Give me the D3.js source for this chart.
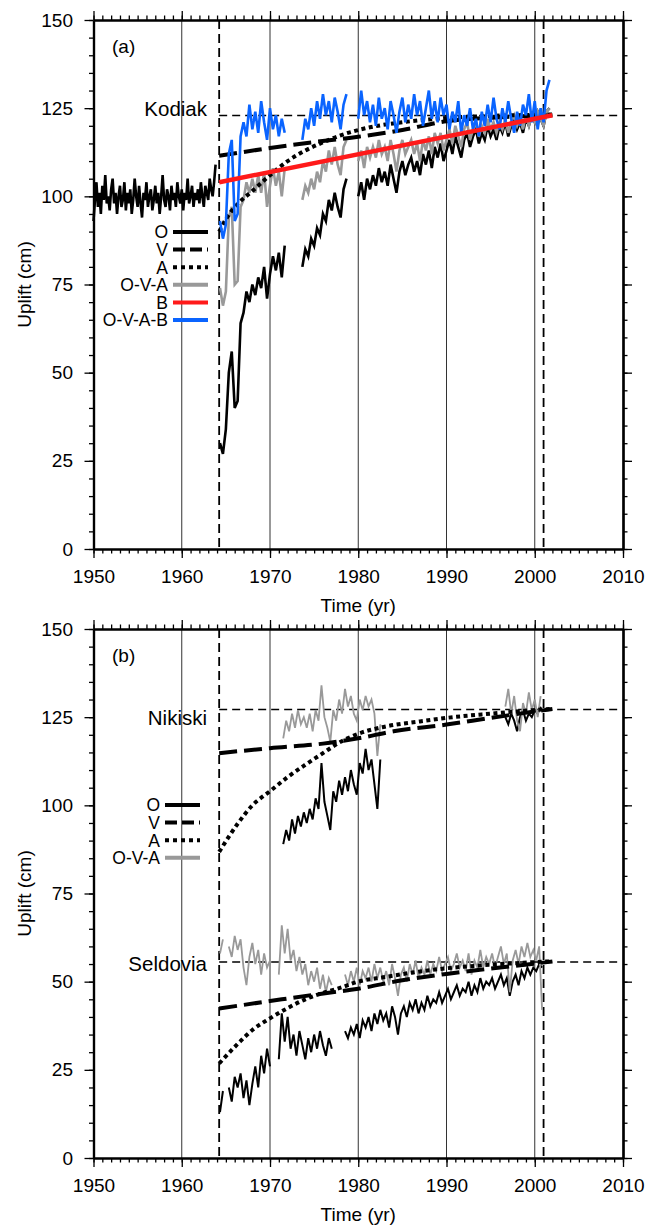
<!DOCTYPE html>
<html>
<head>
<meta charset="utf-8">
<script src="https://cdn.jsdelivr.net/npm/d3@7"></script>
<style>
    body { margin: 0; background: #fff; }
</style>
</head>
<body>
<script>
// ---- data ----
const xTickLabels = [1950, 1960, 1970, 1980, 1990, 2000, 2010];
const yTickLabels = [0, 25, 50, 75, 100, 125, 150];
const gridYears = [1960, 1970, 1980, 1990, 2000];
const quakeYear = 1964.24;
const lastYear = 2001.0;
const step = 1 / 3;   // sampling of the tide-gauge series (yr)

const legendA = ["O", "V", "A", "O-V-A", "B", "O-V-A-B"];
const legendB = ["O", "V", "A", "O-V-A"];

// Kodiak (panel a)
const kodiakFinal = 122.9;
// before the 1964 earthquake, sampled every 2 months
const kodiakObsPre = [93, 99, 104, 97, 101, 95, 103, 99, 106, 98, 100, 96, 102, 105, 98, 101, 95, 100, 103, 97, 99, 104, 96, 101,
    98, 102, 95, 99, 105, 100, 97, 103, 98, 94, 101, 99, 104, 97, 100, 102, 96, 99, 103, 98, 101, 95, 100, 106,
    99, 97, 102, 100, 96, 103, 99, 101, 97, 104, 100, 98, 102, 96, 101, 99, 105, 98, 100, 103, 97, 101, 99, 102,
    98, 104, 100, 97, 103, 101, 99, 105, 102, 100, 104, 109];
const kodiakObs = [30, 27,
    34, 50, 56, 40, 42, 64, 67, 73, 70, 75, 72, 77, 74, 80, 71, 78, 83, 79, 84, 77, 86,
    null, null, null, null, null, 80,
    85, 83, 88, 86, 91, 89, 95, 93, 99, 96, 101, 97, 94, 102, 105,
    null, null, null,
    100, 104, 99, 105, 102, 106, 103, 108, 104, 107, 103, 109, 105, 101, 107, 110, 106, 109,
    111, 107, 110, 106, 112, 109, 113, 108, 114, 111, 115, 110, 113, 116, 112, 117, 114, 111,
    116, 118, 114, 117, 119, 115, 118, 116, 120, 117, 119, 116, 120, 118, 121, 117, 120, 122,
    119, 121, 118, 122, 120, 123, 121, 124, 122, 120, 124, 125];
const kodiakOVA = [74, 69,
    73, 94, 97, 75, 76, 97, 99, 104, 101, 105, 101, 106, 101, 107, 97, 103, 108, 103, 107, 100, 108,
    null, null, null, null, null, 99,
    103, 101, 105, 102, 107, 104, 110, 107, 113, 109, 114, 109, 106, 114, 116,
    null, null, null,
    110, 113, 108, 114, 111, 114, 111, 116, 112, 114, 110, 116, 112, 107, 113, 116, 112, 114,
    116, 112, 115, 110, 116, 113, 117, 112, 118, 115, 118, 113, 116, 119, 115, 120, 117, 114,
    119, 121, 116, 119, 121, 117, 120, 118, 122, 119, 121, 118, 121, 119, 122, 118, 121, 123,
    120, 122, 119, 123, 120, 123, 121, 124, 122, 120, 124, 125];
const kodiakOVAB = [93, 88,
    92, 112, 116, 93, 95, 117, 121, 117, 126, 119, 124, 118, 127, 121, 116, 125, 119, 123, 117, 122, 118,
    null, null, null, null, null, 116,
    122, 119, 125, 120, 127, 122, 129, 123, 127, 121, 128, 124, 119, 126, 129,
    null, null, null,
    122, 130, 123, 127, 121, 126, 120, 128, 122, 125, 119, 127, 123, 118, 124, 128, 121, 126,
    122, 129, 123, 127, 120, 125, 130, 122, 127, 121, 128, 123, 126, 119, 124, 121, 127, 118,
    123, 120, 125, 119, 122, 117, 124, 120, 126, 121, 128, 122, 119, 125, 121, 127, 122, 118,
    124, 120, 126, 123, 129, 121, 127, 119, 125, 121, 130, 133];
const kodiakV = [[1964.24, 111.5], [1970, 113.7], [1975, 115.4], [1980, 116.9], [1985, 118.8], [1990, 121.3], [1995, 122.3], [2002, 123]];
const kodiakA = [[1964.24, 90], [1965, 93.5], [1966.4, 98], [1968, 101.5], [1970, 106], [1972, 110], [1974, 113], [1976, 115.3],
    [1978, 117.3], [1980, 118.8], [1982, 119.9], [1985, 121], [1990, 122.2], [1995, 122.8], [2002, 123.2]];
const kodiakB = [[1964.24, 104], [2002, 123]];

// Nikiski (panel b)
const nikiskiFinal = 127.2;
const nikiskiObs1 = [89, 93, 90, 96, 92, 97, 94, 98, 95, 99, 96, 102, 99, 112, 101, 97, 93, 104, 101, 107, 103, 108, 104,
    110, 106, 103, 112, 109, 116, 110, 113, 106, 99, 113];
const nikiskiOVA1 = [119, 124, 121, 126, 122, 127, 123, 125, 122, 126, 121, 127, 124, 134, 125, 122, 118, 127, 124, 130, 126,
    133, 128, 131, 126, 124, 130, 127, 131, 128, 130, 126, 114, 123];
const nikiskiObs2 = [125, 123, 126, 124, 121, 125, 127, 124, 126, 125, 127, 126, 128];
const nikiskiOVA2 = [128, 133, 126, 131, 124, 121, 129, 126, 132, 127, 130, 125, 131];
const nikiskiV = [[1964.24, 114.8], [1970, 116.2], [1976, 117.5], [1980, 119], [1984, 121], [1990, 122.9], [1995, 124.8], [2002, 127.3]];
const nikiskiA = [[1964.24, 86.8], [1966.4, 95], [1968, 100], [1970, 104], [1972, 108], [1974, 111.5], [1976, 114.8], [1978, 118],
    [1980, 120.3], [1983, 122.3], [1987, 123.8], [1990, 124.8], [1995, 126], [2002, 127.4]];

// Seldovia (panel b)
const seldoviaFinal = 55.6;
const seldoviaObs1 = [13, 19, null, 20, 16, 23, 20, 24, 17, 22, 15, 21, 26, 20, 29, 24, 31, 26, null, null,
    28, 41, 33, 40, 31, 35, 29, 36, 32, 28, 34, 30, 35, 31, 36, 32, 29, 34, 31];
const seldoviaOVA1 = [58, 62, null, 60, 57, 63, 59, 62, 54, 49, 57, 61, 55, 59, 52, 58, 54, 56, null, null,
    52, 66, 58, 65, 56, 59, 53, 57, 52, 55, 49, 53, 50, 54, 48, 52, 47, 51, 49];
const seldoviaObs2 = [36, 34, 37, 35, 38, 34, 39, 37, 40, 36, 41, 38, 42, 39, 41, 37, 43, 40, 35, 41, 43, 40, 44, 42,
    45, 41, 44, 42, 46, 43, 45, 44, 47, 44, 46, 48, 45, 47, 49, 46, 48, 47, 50, 46, 49, 47, 51, 48,
    50, 49, 51, 48, 50, 52, 49, 51, 46, 50, 52, 49, 53, 51, 54, 52, 54, 53, 55, 54];
const seldoviaOVA2 = [52, 49, 53, 50, 54, 49, 53, 51, 54, 50, 55, 51, 54, 50, 53, 49, 55, 51, 46, 52, 54, 50, 55, 52,
    56, 51, 54, 52, 56, 52, 55, 53, 57, 53, 55, 57, 53, 55, 58, 54, 56, 53, 58, 52, 56, 54, 59, 54,
    57, 55, 58, 54, 57, 60, 55, 58, 47, 56, 59, 55, 60, 57, 61, 57, 59, 56, 60, 42];
const seldoviaV = [[1964.24, 42.4], [1970, 44.5], [1975, 46.3], [1980, 48], [1985, 50.4], [1990, 52.2], [1995, 53.7], [2002, 55.7]];
const seldoviaA = [[1964.24, 26.8], [1966.4, 32.5], [1968, 36.3], [1970, 39.6], [1972, 42.5], [1974, 45], [1976, 46.8], [1978, 48.3],
    [1980, 50], [1983, 51.3], [1987, 52.9], [1990, 53.8], [1995, 54.8], [2002, 55.8]];

// ---- drawing ----
const font = "'Liberation Sans', Arial, Helvetica, sans-serif";
const width = 647;
const height = 1226;
const plot_left = 93.5;
const plot_right = 623;
const plot_h = 529;

const styles = {
    "O": { stroke: "#000", width: 2.6 },
    "V": { stroke: "#000", width: 4, dash: "18,7" },
    "A": { stroke: "#000", width: 4, dash: "4,3.5" },
    "O-V-A": { stroke: "#999", width: 2.6 },
    "B": { stroke: "#ff1a1a", width: 4.5 },
    "O-V-A-B": { stroke: "#0a64ff", width: 2.6 }
};

const svg = d3.select("body")
    .append("svg")
    .attr("width", width)
    .attr("height", height)
    .style("font-family", font);

const x = d3.scaleLinear().domain([1950, 2010]).range([plot_left, plot_right]);

const to_points = seg => seg.values.map((v, i) => [seg.start + i * (seg.step || step), v]);

function make_panel(top, cfg) {
    const y = d3.scaleLinear().domain([0, 150]).range([top + plot_h, top]);
    const g = svg.append("g");

    const line = d3.line()
        .defined(d => d[1] !== null)
        .x(d => x(d[0]))
        .y(d => y(d[1]));
    const smooth = d3.line()
        .x(d => x(d[0]))
        .y(d => y(d[1]))
        .curve(d3.curveMonotoneX);

    // decade grid
    g.append("g")
        .selectAll("line")
        .data(gridYears)
        .join("line")
        .attr("x1", d => x(d)).attr("x2", d => x(d))
        .attr("y1", y(150)).attr("y2", y(0))
        .attr("stroke", "#333")
        .attr("stroke-width", 1);

    // earthquake and last-observation markers
    g.append("g")
        .selectAll("line")
        .data([quakeYear, lastYear])
        .join("line")
        .attr("x1", d => x(d)).attr("x2", d => x(d))
        .attr("y1", y(150)).attr("y2", y(0))
        .attr("stroke", "#000")
        .attr("stroke-width", 1.8)
        .attr("stroke-dasharray", "9,5");

    // final uplift levels, station names and series
    cfg.stations.forEach(st => {
        g.append("line")
            .attr("x1", x(quakeYear)).attr("x2", x(2010) - 5)
            .attr("y1", y(st.final)).attr("y2", y(st.final))
            .attr("stroke", "#000")
            .attr("stroke-width", 1.5)
            .attr("stroke-dasharray", "8,5");
        g.append("text")
            .attr("x", 207)
            .attr("y", y(st.final) + st.label_dy)
            .attr("text-anchor", "end")
            .attr("font-size", 20.5)
            .text(st.name);

        st.series.forEach(s => {
            const sty = styles[s.key];
            const paths = s.smooth
                ? [g.append("path").datum(s.points).attr("d", smooth)]
                : s.segs.map(seg => g.append("path").datum(to_points(seg)).attr("d", line));
            paths.forEach(p => p
                .attr("fill", "none")
                .attr("stroke", sty.stroke)
                .attr("stroke-width", s.width || sty.width)
                .attr("stroke-dasharray", sty.dash || null)
                .attr("stroke-linejoin", "miter"));
        });
    });

    // axes
    const style_axis = sel => {
        sel.attr("font-family", font).attr("font-size", 19);
        sel.select(".domain").attr("stroke-width", 2.2);
        sel.selectAll(".tick line").attr("stroke-width", 1.3);
        sel.selectAll(".tick text").attr("fill", "#000");
    };
    const none = () => "";
    const yMinor = d3.range(0, 151, 5);
    const xMinor = d3.range(1950, 2011, 1);

    g.append("g").attr("transform", `translate(${plot_left},0)`)
        .call(d3.axisLeft(y).tickValues(yMinor).tickSize(4.5).tickFormat(none).tickSizeOuter(0)).call(style_axis);
    g.append("g").attr("transform", `translate(${plot_left},0)`)
        .call(d3.axisLeft(y).tickValues(yTickLabels).tickSize(9).tickPadding(11.5).tickSizeOuter(0)).call(style_axis);
    g.append("g").attr("transform", `translate(${plot_right},0)`)
        .call(d3.axisRight(y).tickValues(yMinor).tickSize(4.5).tickFormat(none).tickSizeOuter(0)).call(style_axis);
    g.append("g").attr("transform", `translate(${plot_right},0)`)
        .call(d3.axisRight(y).tickValues(yTickLabels).tickSize(9).tickFormat(none).tickSizeOuter(0)).call(style_axis);
    g.append("g").attr("transform", `translate(0,${top})`)
        .call(d3.axisTop(x).tickValues(xMinor).tickSize(4.5).tickFormat(none).tickSizeOuter(0)).call(style_axis);
    g.append("g").attr("transform", `translate(0,${top})`)
        .call(d3.axisTop(x).tickValues(xTickLabels).tickSize(9).tickFormat(none).tickSizeOuter(0)).call(style_axis);
    g.append("g").attr("transform", `translate(0,${top + plot_h})`)
        .call(d3.axisBottom(x).tickValues(xMinor).tickSize(4.5).tickFormat(none).tickSizeOuter(0)).call(style_axis);
    g.append("g").attr("transform", `translate(0,${top + plot_h})`)
        .call(d3.axisBottom(x).tickValues(xTickLabels).tickSize(9).tickPadding(12).tickFormat(d3.format("d")).tickSizeOuter(0))
        .call(style_axis);

    // titles
    g.append("text")
        .attr("x", x(1980))
        .attr("y", top + plot_h + 63)
        .attr("text-anchor", "middle")
        .attr("font-size", 19)
        .text("Time (yr)");
    g.append("text")
        .attr("transform", `translate(31,${top + plot_h / 2}) rotate(-90)`)
        .attr("text-anchor", "middle")
        .attr("font-size", 19)
        .text("Uplift (cm)");
    g.append("text")
        .attr("x", 112)
        .attr("y", top + 33)
        .attr("font-size", 19)
        .text(cfg.letter);

    // legend
    const lg = g.append("g");
    cfg.legend.forEach((name, i) => {
        const ly = cfg.legend_y + i * 17.6;
        const sty = styles[name];
        lg.append("text")
            .attr("x", cfg.legend_x)
            .attr("y", ly)
            .attr("dy", "0.36em")
            .attr("text-anchor", "end")
            .attr("font-size", 17.5)
            .text(name);
        lg.append("line")
            .attr("x1", cfg.legend_x + 5).attr("x2", cfg.legend_x + 40)
            .attr("y1", ly).attr("y2", ly)
            .attr("stroke", sty.stroke)
            .attr("stroke-width", 4)
            .attr("stroke-dasharray", name === "V" ? "12,5" : name === "A" ? "4,4" : null);
    });
}

make_panel(20, {
    letter: "(a)",
    legend: legendA,
    legend_x: 168,
    legend_y: 232,
    stations: [{
        name: "Kodiak",
        final: kodiakFinal,
        label_dy: 0.5,
        series: [
            { key: "O", segs: [{ start: 1950, step: 1 / 6, values: kodiakObsPre }, { start: 1964.333, values: kodiakObs }] },
            { key: "O-V-A", segs: [{ start: 1964.333, values: kodiakOVA }] },
            { key: "V", smooth: true, points: kodiakV },
            { key: "A", smooth: true, points: kodiakA },
            { key: "O-V-A-B", segs: [{ start: 1964.333, values: kodiakOVAB }] },
            { key: "B", smooth: true, points: kodiakB }
        ]
    }]
});

make_panel(629, {
    letter: "(b)",
    legend: legendB,
    legend_x: 160,
    legend_y: 805,
    stations: [{
        name: "Nikiski",
        final: nikiskiFinal,
        label_dy: 16,
        series: [
            { key: "O", segs: [{ start: 1971.5, values: nikiskiObs1 }, { start: 1996.667, values: nikiskiObs2 }], width: 2 },
            { key: "O-V-A", segs: [{ start: 1971.5, values: nikiskiOVA1 }, { start: 1996.667, values: nikiskiOVA2 }], width: 1.8 },
            { key: "V", smooth: true, points: nikiskiV },
            { key: "A", smooth: true, points: nikiskiA }
        ]
    }, {
        name: "Seldovia",
        final: seldoviaFinal,
        label_dy: 9.5,
        series: [
            { key: "O", segs: [{ start: 1964.333, values: seldoviaObs1 }, { start: 1978.5, values: seldoviaObs2 }], width: 2 },
            { key: "O-V-A", segs: [{ start: 1964.333, values: seldoviaOVA1 }, { start: 1978.5, values: seldoviaOVA2 }], width: 1.8 },
            { key: "V", smooth: true, points: seldoviaV },
            { key: "A", smooth: true, points: seldoviaA }
        ]
    }]
});
</script>
</body>
</html>
